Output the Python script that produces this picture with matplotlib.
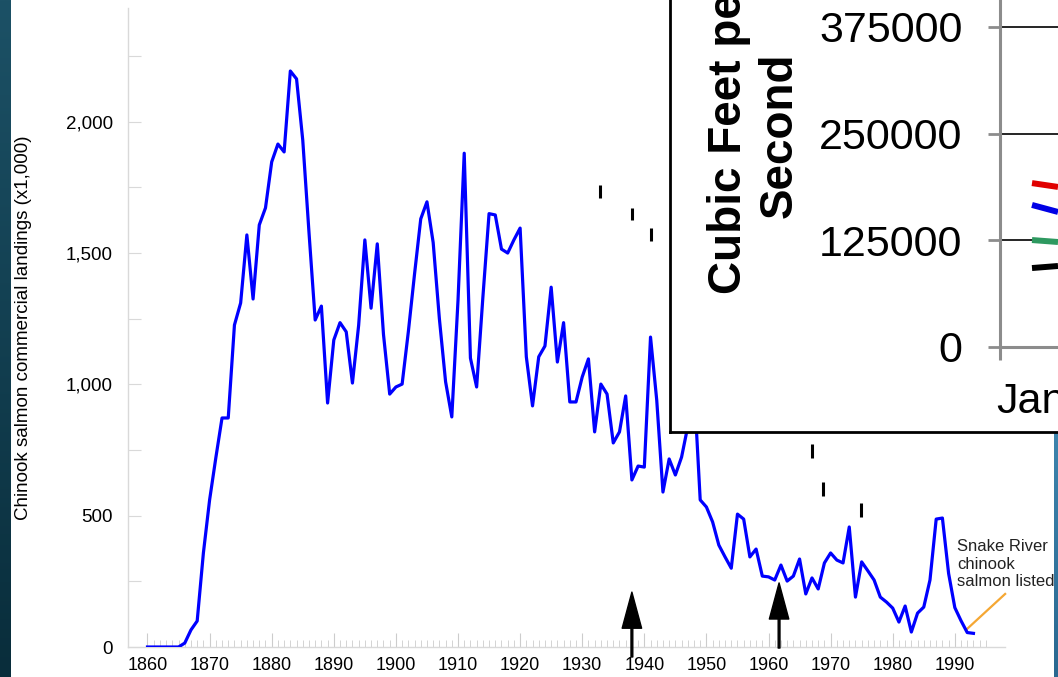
import numpy as np
import matplotlib
matplotlib.use("Agg")
import matplotlib.pyplot as plt
import matplotlib.transforms as mtransforms
from matplotlib.ticker import FuncFormatter, MultipleLocator

plt.rcParams['font.family'] = ['Liberation Sans', 'DejaVu Sans']

# Desembarques comerciales de salmón chinook (x1000), 1860-1993
years = list(range(1860, 1994))
landings = [
    0, 0, 0, 0, 0, 0, 15, 65, 99, 358,                   # 1860s
    560, 720, 872, 872, 1226, 1310, 1569, 1325, 1607, 1672,  # 1870s
    1847, 1915, 1885, 2193, 2163, 1930, 1580, 1245, 1298, 929,  # 1880s
    1169, 1235, 1200, 1005, 1225, 1550, 1290, 1535, 1190, 963,  # 1890s
    990, 1001, 1200, 1420, 1630, 1695, 1540, 1250, 1010, 876,   # 1900s
    1320, 1880, 1100, 990, 1330, 1650, 1645, 1515, 1500, 1550,  # 1910s
    1595, 1105, 918, 1105, 1146, 1370, 1085, 1235, 933, 933,    # 1920s
    1028, 1097, 819, 1001, 963, 777, 819, 956, 636, 689,        # 1930s
    685, 1180, 940, 590, 716, 655, 723, 840, 1000, 560,         # 1940s
    533, 476, 388, 343, 300, 506, 487, 343, 373, 270,           # 1950s
    267, 255, 312, 251, 270, 335, 202, 263, 221, 320,           # 1960s
    358, 331, 320, 457, 190, 324, 290, 255, 190, 171,           # 1970s
    148, 95, 156, 57, 129, 152, 255, 487, 491, 280,             # 1980s
    150, 100, 55, 52,                                           # 1990s
]

# flechas (año, punta, base)
arrow_years = [1938.0, 1961.7]
arrow_tips = [209, 244]
arrow_bases = [-38, -4]

# marcas cortas sueltas (año, valor bajo, valor alto)
dash_years = [1932.9, 1938.0, 1941.0, 1967.0, 1968.8, 1974.9]
dash_lo = [1710, 1626, 1546, 720, 575, 495]
dash_hi = [1760, 1672, 1596, 773, 628, 548]

note_text = "Snake River\nchinook\nsalmon listed"
note_pos = (1990.35, 316)
note_line_x = [1991.8, 1998.1]
note_line_y = [65, 202]

# gráfico superpuesto (caudal)
flow_ticks = [0, 125000, 250000, 375000]
flow_days = [32, 58]
flow_red = [192000, 187500]
flow_blue = [166400, 158200]
flow_green = [125300, 123000]
flow_black = [92500, 94900]

W, H = 1058, 677
fig = plt.figure(figsize=(W / 100, H / 100), dpi=100)


def px(x0, y0, x1, y1):
    # caja en píxeles (origen arriba a la izquierda) -> coordenadas de figura
    return [x0 / W, 1 - y1 / H, (x1 - x0) / W, (y1 - y0) / H]


# bandas laterales del fondo
grad = np.linspace(0, 1, 256).reshape(-1, 1)
band = fig.add_axes(px(0, 0, 11, H))
band.imshow(grad, aspect='auto', extent=[0, 1, 0, 1],
            cmap=matplotlib.colors.LinearSegmentedColormap.from_list('b', ['#1c5166', '#092d3b']))
band.axis('off')

rband = fig.add_axes(px(1054, 432, W, H))
rband.imshow(grad, aspect='auto', extent=[0, 1, 0, 1],
             cmap=matplotlib.colors.LinearSegmentedColormap.from_list('r', ['#3d84ad', '#2a6890']))
rband.axis('off')

# gráfico principal
ax = fig.add_axes(px(128, 8, 1005, 647))
ax.plot(years, landings, color='#0000ff', lw=2.3, zorder=3)

for s in ['top', 'right']:
    ax.spines[s].set_visible(False)
for s in ['left', 'bottom']:
    ax.spines[s].set_color('#d9d9d9')
    ax.spines[s].set_linewidth(1)

ax.set_xticks(range(1860, 2000, 10))
ax.xaxis.set_minor_locator(MultipleLocator(1))
ax.set_xticks(range(1860, 1996), minor=True)
ax.tick_params(axis='x', which='major', direction='in', length=10, color='#cccccc',
               labelsize=13, pad=7)
ax.tick_params(axis='x', which='minor', direction='in', length=5, color='#cccccc')
ax.set_yticks(range(0, 2500, 250))
ax.yaxis.set_major_formatter(FuncFormatter(lambda v, p: f"{int(v):,}" if v % 500 == 0 else ""))
ax.tick_params(axis='y', direction='in', length=9, color='#d9d9d9', labelsize=13.5, pad=11)
ax.set_ylabel("Chinook salmon commercial landings (x1,000)", fontsize=13.5, labelpad=24)
ax.set_xlim(1856.86, 1998.08)
ax.set_ylim(0, 2433)

for yr, lo, hi in zip(dash_years, dash_lo, dash_hi):
    ax.plot([yr, yr], [lo, hi], color='black', lw=2.2, solid_capstyle='butt')

for yr, tip, base in zip(arrow_years, arrow_tips, arrow_bases):
    ax.annotate('', xy=(yr, tip), xytext=(yr, base), annotation_clip=False,
                arrowprops=dict(facecolor='black', edgecolor='black', width=1.3,
                                headwidth=14, headlength=26, shrink=0))

ax.plot(note_line_x, note_line_y, color='#f5a733', lw=1.6, clip_on=False)
ax.text(note_pos[0], note_pos[1], note_text, fontsize=12, linespacing=1.2,
        va='center', ha='left', color='#222222', clip_on=False)

# recuadro del gráfico superpuesto
panel = fig.add_axes(px(670, -10, 1100, 432), zorder=2)
panel.set_xticks([])
panel.set_yticks([])
for s in panel.spines.values():
    s.set_color('black')
    s.set_linewidth(2)

inset = fig.add_axes(px(1000, 0, 1365, 347), zorder=3)
inset.patch.set_alpha(0)
for s in ['top', 'right']:
    inset.spines[s].set_visible(False)
for s in ['left', 'bottom']:
    inset.spines[s].set_color('#8c8c8c')
    inset.spines[s].set_linewidth(2.2)
inset.set_yticks(flow_ticks)
inset.set_yticklabels([str(t) for t in flow_ticks])
inset.tick_params(axis='y', length=9, width=2, color='#8c8c8c', labelsize=31, pad=18)
inset.set_xticks([0])
inset.set_xticklabels(['Jan'], ha='left')
inset.tick_params(axis='x', length=9, width=2.2, color='#8c8c8c', labelsize=31, pad=16)
shift = mtransforms.ScaledTranslation(-4 / 100, 0, fig.dpi_scale_trans)
for lab in inset.get_xticklabels():
    lab.set_transform(lab.get_transform() + shift)
inset.set_xlim(0, 365)
inset.set_ylim(0, 406500)
for t in flow_ticks[1:]:
    inset.axhline(t, color='black', lw=1.2, zorder=1)
for vals, c in [(flow_red, '#e00000'), (flow_blue, '#0000e6'),
                (flow_green, '#2e9960'), (flow_black, 'black')]:
    inset.plot(flow_days, vals, color=c, lw=4.3, solid_capstyle='butt', zorder=2)

fig.text(754 / W, 1 - 135 / H, "Cubic Feet per\nSecond", rotation=90, fontsize=33,
         fontweight='bold', ha='center', va='center', multialignment='center', zorder=4)

fig.savefig("out.png", dpi=100)
